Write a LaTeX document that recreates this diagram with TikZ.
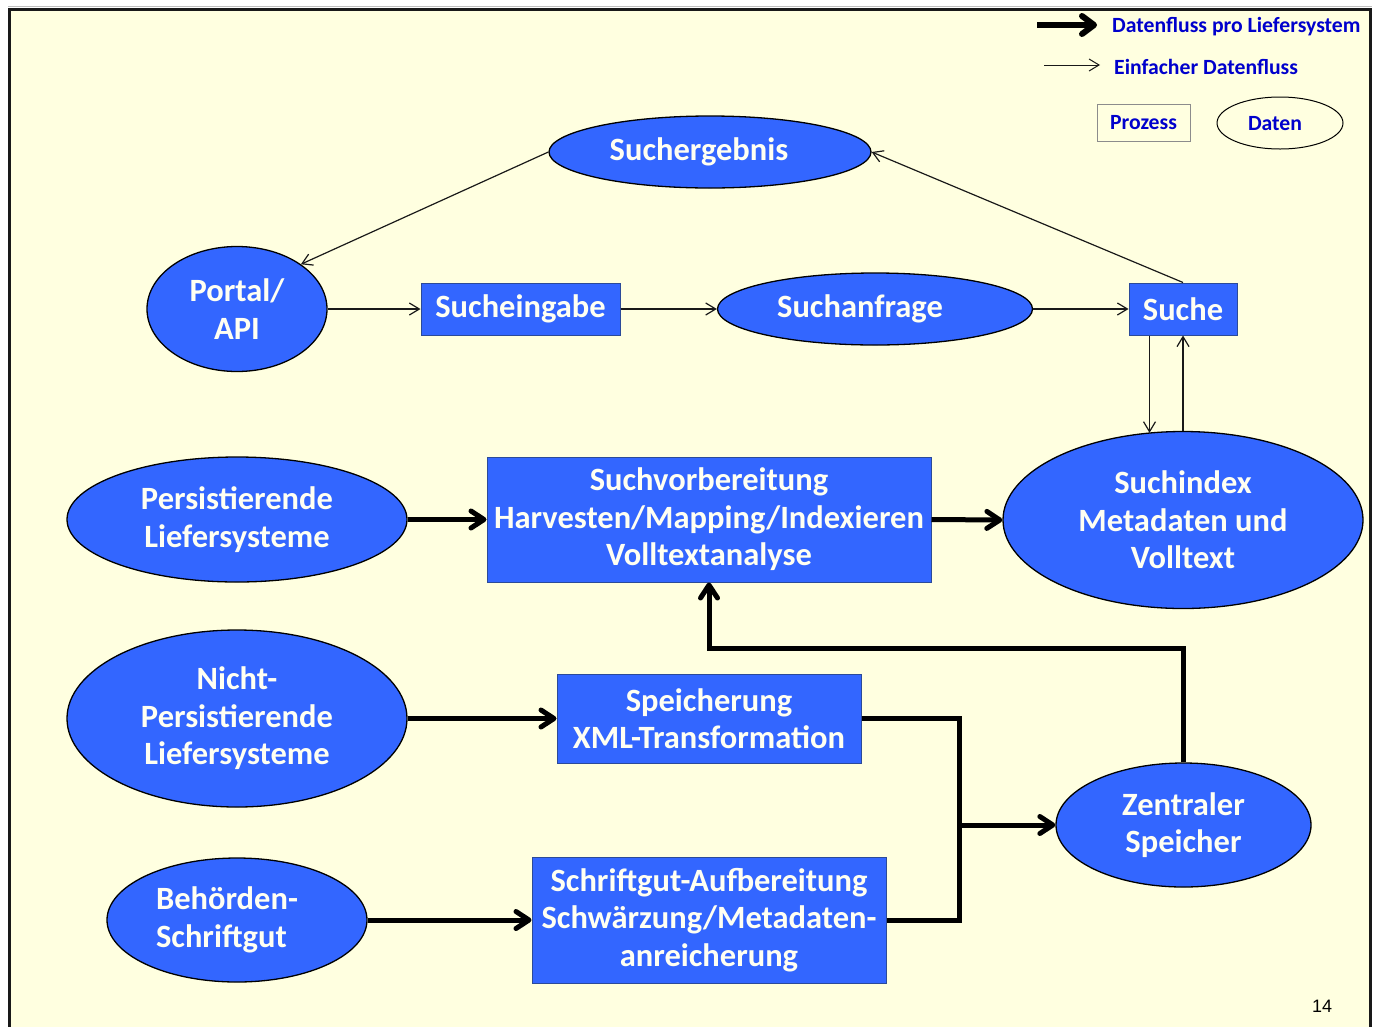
\documentclass[tikz,border=0pt]{standalone}
\usepackage{fontspec}
\setmainfont{Carlito}
\newfontfamily\arialfont{Liberation Sans}
\usetikzlibrary{arrows.meta,shapes.geometric,calc}
\definecolor{bgyellow}{HTML}{FFFFE0}
\definecolor{boxblue}{HTML}{3366FF}
\definecolor{legblue}{HTML}{0000CC}
\definecolor{txtw}{HTML}{FFFFF2}
\definecolor{rectedge}{HTML}{2B4A99}
\begin{document}
\begin{tikzpicture}[x=1pt,y=-1pt,
 mainfont/.style={font=\bfseries\fontsize{32.5}{37.5}\selectfont, text=txtw, align=center},
 procbox/.style={mainfont, rectangle, fill=boxblue, draw=rectedge, line width=1pt, inner sep=0pt},
 databox/.style={mainfont, ellipse, fill=boxblue, draw=black, line width=1.3pt, inner sep=0pt},
 thinarrow/.style={draw=black!90, line width=1.2pt, -{Straight Barb[length=10pt,width=12pt]}},
 thickline/.style={draw=black, line width=5pt},
 thickarrow/.style={thickline, -{Straight Barb[length=13pt,width=17pt,round]}},
 legtext/.style={font=\bfseries\fontsize{21.7}{25}\selectfont, text=legblue, anchor=west, inner sep=0pt}
]
\useasboundingbox (0,0) rectangle (1378,1026);
\fill[white] (0,0) rectangle (1378,1026);
\fill[bgyellow] (9,9) rectangle (1370,1030);
\draw[gray!50, line width=1pt] (8,6.5) -- (1372,6.5);
\draw[black!90, line width=3pt] (9,1030) -- (9,9) -- (1370,9) -- (1370,1030);

% legend
\coordinate (l1a) at (1037,25);
\coordinate (l1b) at (1097,25);
\draw[thickline, line width=6pt, -{Straight Barb[length=12pt,width=18pt,round]}] (l1a) -- (l1b);
\node[legtext] (leg1) at (1112,26.5) {Datenfluss pro Liefersystem};
\coordinate (l2a) at (1044,65);
\coordinate (l2b) at (1100,65);
\draw[thinarrow, line width=1pt] (l2a) -- (l2b);
\node[legtext] (leg2) at (1114,67) {Einfacher Datenfluss};
\node[rectangle, draw=black!45, line width=1pt, minimum width=93pt, minimum height=37pt, inner sep=0pt,
      font=\bfseries\fontsize{21.7}{25}\selectfont, text=legblue] (legp) at (1143.5,122.5) {Prozess};
\node[ellipse, draw=black, line width=1pt, minimum width=126pt, minimum height=52pt, inner sep=0pt] (legd) at (1280,123) {};
\node[font=\bfseries\fontsize{21.7}{25}\selectfont, text=legblue, inner sep=0pt] (legdt) at (1275,124) {Daten};

% nodes
\node[databox, minimum width=322pt, minimum height=72pt] (erg) at (710,152) {};
\node[mainfont] (ergt) at (699,152) {Suchergebnis};
\node[databox, minimum width=180pt, minimum height=125pt] (portal) at (237,309) {Portal/\\API};
\node[procbox, minimum width=199pt, minimum height=52pt] (eing) at (520.5,309) {Sucheingabe};
\node[databox, minimum width=315pt, minimum height=72pt] (anfr) at (875,309) {};
\node[mainfont] (anfrt) at (860,309) {Suchanfrage};
\node[procbox, minimum width=108pt, minimum height=52pt] (suche) at (1183,309) {Suche};
\node[databox, minimum width=360pt, minimum height=177pt] (idx) at (1183,520) {Suchindex\\Metadaten und\\Volltext};
\node[databox, minimum width=340pt, minimum height=125pt] (pers) at (237,519.5) {Persistierende\\Liefersysteme};
\node[procbox, minimum width=444pt, minimum height=125pt] (vorb) at (709,519.5) {Suchvorbereitung\\Harvesten/Mapping/Indexieren\\Volltextanalyse};
\node[databox, minimum width=340pt, minimum height=177pt] (npers) at (237,718.5) {Nicht-\\Persistierende\\Liefersysteme};
\node[procbox, minimum width=304pt, minimum height=89pt] (speich) at (709,718.5) {Speicherung\\XML-Transformation};
\node[databox, minimum width=255pt, minimum height=124pt] (zs) at (1183.5,825) {Zentraler\\Speicher};
\node[databox, minimum width=260pt, minimum height=124pt] (beh) at (237,920) {};
\node[mainfont, align=left] (beht) at (227,920) {Behörden-\\Schriftgut};
\node[procbox, minimum width=354pt, minimum height=126pt] (schrift) at (709,920) {Schriftgut-Aufbereitung\\Schwärzung/Metadaten-\\anreicherung};

% thin connectors
\draw[thinarrow] (erg.west) -- (portal.35);
\draw[thinarrow] (suche.north) -- (erg.east);
\draw[thinarrow] (portal.east) -- (eing.west);
\draw[thinarrow] (eing.east) -- (anfr.west);
\draw[thinarrow] (anfr.east) -- (suche.west);
\draw[thinarrow] ([xshift=21pt]suche.south west) -- ([xshift=21pt,yshift=-2pt]suche.south west |- idx.north);
\draw[thinarrow] (idx.north) -- (suche.south);

% thick connectors
\coordinate (join) at (959,825);
\coordinate (bend) at (709,648);
\draw[thickarrow] (pers.east) -- (vorb.west);
\draw[thickarrow] (vorb.east) -- (idx.west);
\draw[thickarrow] (npers.east) -- (speich.west);
\draw[thickarrow] (beh.east) -- (schrift.west);
\draw[thickline] (speich.east) -| (join);
\draw[thickline] (schrift.east) -| (join);
\draw[thickarrow] (join) -- (zs.west);
\draw[thickarrow] (zs.north) |- (bend) -- (vorb.south);

\node[font=\arialfont\fontsize{18}{20}\selectfont, inner sep=0pt] (page) at (1322,1006) {14};
\end{tikzpicture}
\end{document}
